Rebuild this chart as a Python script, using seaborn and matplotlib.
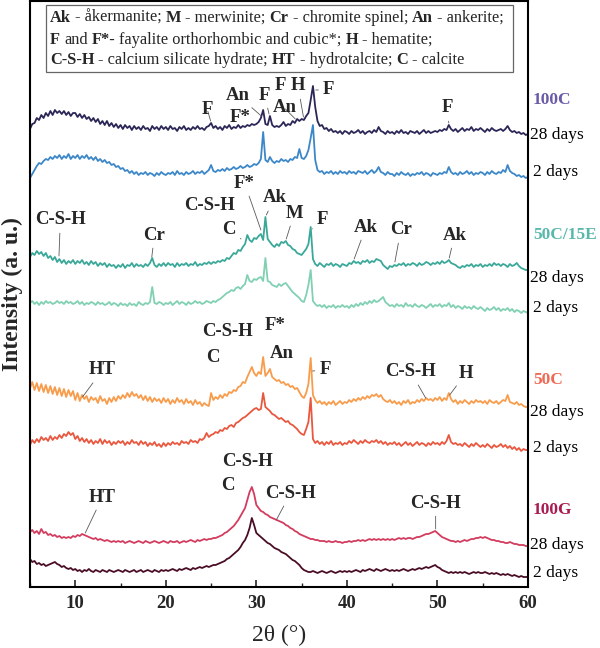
import numpy as np
import pandas as pd
import matplotlib
matplotlib.use("Agg")
import matplotlib.pyplot as plt
from matplotlib.patches import Rectangle
from matplotlib.ticker import MultipleLocator
import seaborn as sns

# scan 5-60 deg 2theta, step 0.25 deg (221 points per pattern)
scan_start = 5.0
scan_step = 0.25
n_points = 221

# intensities (a.u.), each row = 5 deg
i_100c_28d = [
    11, 16, 17, 22, 20, 25, 22, 27, 24, 29, 25, 30, 27, 29, 26, 29, 25, 28, 24, 27,
    27, 23, 26, 22, 25, 21, 23, 19, 22, 18, 21, 16, 19, 15, 19, 14, 17, 13, 16, 12,
    15, 11, 15, 12, 14, 10, 14, 11, 13, 10, 14, 11, 12, 9, 14, 11, 13, 10, 14, 11,
    13, 10, 14, 11, 12, 9, 13, 11, 14, 10, 12, 10, 13, 11, 14, 11, 12, 10, 13, 14,
    17, 12, 14, 11, 13, 10, 14, 12, 15, 11, 13, 12, 15, 12, 14, 13, 15, 14, 16, 15,
    16, 18, 22, 30, 16, 15, 24, 15, 13, 14, 13, 15, 18, 14, 16, 15, 19, 17, 21, 19,
    21, 20, 24, 27, 40, 54, 33, 19, 14, 15, 11, 12, 9, 11, 8, 9, 7, 9, 6, 9,
    8, 6, 9, 7, 8, 10, 7, 9, 6, 8, 9, 7, 10, 8, 13, 9, 8, 6, 9, 7,
    8, 6, 9, 7, 10, 7, 8, 6, 9, 8, 7, 9, 6, 8, 10, 7, 9, 7, 8, 9,
    8, 10, 9, 11, 10, 15, 11, 9, 11, 8, 10, 12, 9, 11, 10, 13, 9, 11, 10, 12,
    10, 8, 11, 9, 12, 10, 9, 10, 11, 9, 11, 14, 10, 8, 9, 7, 8, 6, 7, 5,
    6]
i_100c_2d = [
    2, 6, 10, 14, 17, 16, 19, 21, 20, 23, 21, 24, 22, 25, 21, 24, 22, 26, 21, 24,
    22, 25, 21, 24, 22, 25, 21, 23, 20, 23, 19, 21, 18, 20, 17, 18, 15, 16, 13, 14,
    11, 12, 9, 10, 7, 9, 6, 8, 5, 7, 6, 8, 5, 7, 6, 4, 7, 5, 8, 6,
    5, 7, 6, 8, 5, 9, 6, 7, 5, 8, 6, 7, 9, 6, 8, 7, 9, 6, 8, 10,
    15, 9, 8, 10, 9, 11, 9, 12, 10, 11, 13, 11, 12, 14, 12, 13, 15, 13, 14, 16,
    15, 17, 21, 48, 20, 18, 23, 19, 17, 19, 18, 21, 19, 20, 18, 21, 20, 23, 22, 31,
    22, 21, 24, 30, 42, 55, 20, 10, 8, 9, 6, 8, 7, 9, 6, 8, 6, 9, 7, 8,
    6, 9, 7, 8, 6, 9, 8, 7, 9, 6, 8, 10, 7, 9, 13, 8, 7, 5, 8, 6,
    6, 4, 7, 5, 8, 6, 5, 7, 4, 6, 5, 7, 6, 8, 5, 7, 6, 4, 7, 6,
    5, 7, 6, 8, 7, 13, 8, 6, 7, 5, 8, 6, 7, 9, 6, 8, 5, 7, 6, 8,
    7, 5, 8, 6, 9, 7, 6, 8, 7, 10, 8, 15, 9, 7, 6, 4, 5, 3, 4, 2,
    3]
i_50c15e_28d = [
    18, 22, 20, 24, 21, 23, 19, 22, 17, 19, 15, 18, 13, 16, 12, 15, 11, 14, 12, 15,
    11, 14, 12, 15, 11, 13, 10, 14, 11, 13, 9, 12, 10, 12, 8, 11, 9, 10, 7, 10,
    8, 11, 7, 10, 9, 12, 8, 11, 9, 10, 8, 11, 9, 12, 17, 10, 8, 11, 9, 12,
    9, 12, 10, 11, 8, 12, 9, 11, 10, 12, 9, 11, 10, 13, 9, 11, 10, 12, 11, 13,
    11, 13, 12, 14, 13, 15, 14, 17, 16, 19, 22, 21, 25, 24, 28, 31, 40, 35, 33, 37,
    36, 39, 41, 35, 58, 36, 33, 30, 28, 31, 29, 33, 32, 34, 30, 29, 26, 25, 22, 21,
    20, 23, 26, 31, 48, 16, 11, 9, 12, 10, 8, 11, 10, 12, 9, 11, 10, 8, 11, 10,
    9, 12, 11, 14, 12, 13, 11, 14, 13, 15, 12, 14, 13, 16, 15, 14, 10, 8, 6, 9,
    8, 10, 9, 11, 10, 12, 9, 11, 10, 12, 11, 9, 12, 10, 11, 13, 12, 10, 12, 11,
    13, 11, 14, 12, 13, 15, 12, 11, 10, 8, 7, 9, 8, 10, 9, 11, 8, 10, 9, 11,
    8, 10, 9, 11, 9, 12, 10, 11, 9, 11, 10, 8, 11, 9, 10, 12, 9, 7, 6, 5,
    5]
i_50c15e_2d = [
    12, 14, 11, 13, 10, 13, 11, 14, 12, 13, 11, 12, 14, 12, 13, 11, 14, 12, 13, 11,
    12, 14, 11, 13, 10, 12, 11, 13, 12, 10, 13, 11, 12, 10, 11, 13, 10, 12, 11, 9,
    12, 10, 11, 9, 12, 10, 11, 9, 13, 11, 10, 12, 11, 13, 28, 12, 11, 13, 12, 10,
    12, 11, 13, 10, 12, 14, 11, 13, 12, 10, 13, 11, 12, 14, 12, 13, 11, 12, 14, 13,
    12, 14, 13, 15, 16, 18, 20, 22, 23, 25, 24, 27, 28, 26, 29, 31, 40, 34, 33, 36,
    35, 37, 38, 34, 57, 34, 33, 30, 29, 28, 31, 29, 31, 32, 29, 26, 23, 21, 19, 17,
    14, 13, 20, 30, 45, 14, 11, 9, 10, 8, 10, 7, 9, 8, 10, 7, 9, 8, 10, 8,
    9, 7, 10, 8, 11, 9, 12, 10, 13, 11, 14, 12, 15, 13, 14, 16, 18, 13, 11, 9,
    10, 8, 11, 9, 10, 8, 12, 9, 10, 8, 11, 9, 8, 10, 9, 7, 9, 11, 8, 10,
    9, 11, 8, 10, 9, 12, 8, 10, 7, 9, 8, 6, 9, 7, 8, 6, 9, 7, 6, 8,
    6, 4, 7, 5, 6, 8, 5, 7, 4, 6, 5, 7, 4, 6, 3, 5, 4, 2, 4, 3,
    2]
i_50c_28d = [
    22, 28, 20, 27, 19, 26, 18, 25, 17, 24, 16, 23, 15, 22, 14, 21, 13, 20, 14, 19,
    10, 17, 9, 15, 11, 14, 8, 13, 10, 12, 7, 14, 9, 11, 6, 12, 8, 13, 9, 14,
    11, 15, 12, 17, 13, 18, 14, 16, 12, 15, 10, 14, 9, 13, 8, 12, 9, 11, 7, 12,
    8, 11, 6, 10, 7, 12, 8, 10, 6, 11, 7, 9, 5, 10, 6, 8, 4, 7, 5, 4,
    17, 10, 13, 11, 15, 12, 16, 14, 18, 17, 20, 19, 23, 24, 28, 27, 33, 38, 43, 37,
    34, 38, 36, 53, 34, 37, 41, 33, 31, 29, 30, 27, 28, 25, 26, 23, 24, 21, 22, 18,
    14, 12, 17, 26, 52, 15, 10, 7, 9, 6, 8, 5, 8, 6, 9, 5, 7, 9, 6, 8,
    7, 10, 8, 11, 9, 12, 10, 13, 11, 14, 12, 15, 14, 16, 13, 15, 11, 9, 8, 10,
    7, 9, 6, 8, 5, 9, 7, 10, 6, 8, 7, 10, 8, 11, 9, 12, 10, 11, 9, 12,
    10, 13, 9, 12, 10, 17, 11, 8, 10, 6, 9, 7, 10, 8, 6, 9, 7, 10, 8, 9,
    7, 9, 6, 10, 8, 7, 9, 6, 8, 10, 9, 15, 8, 7, 6, 8, 5, 6, 4, 3,
    3]
i_50c_2d = [
    10, 15, 12, 16, 13, 18, 15, 17, 14, 19, 15, 18, 16, 20, 17, 21, 19, 23, 20, 22,
    16, 19, 14, 17, 13, 16, 12, 15, 11, 14, 12, 16, 11, 15, 12, 14, 10, 13, 11, 14,
    12, 14, 10, 13, 11, 15, 12, 13, 10, 14, 11, 13, 9, 12, 10, 13, 9, 11, 8, 12,
    9, 12, 10, 13, 11, 12, 10, 14, 12, 13, 11, 15, 13, 14, 12, 16, 15, 17, 22, 18,
    20, 21, 23, 22, 25, 24, 27, 26, 29, 30, 28, 32, 33, 35, 37, 38, 40, 42, 44, 46,
    47, 45, 46, 62, 48, 46, 44, 41, 40, 38, 36, 37, 35, 33, 34, 31, 30, 28, 26, 23,
    21, 20, 26, 33, 57, 16, 12, 14, 11, 13, 10, 13, 11, 14, 10, 12, 11, 13, 10, 12,
    11, 14, 12, 15, 13, 11, 14, 12, 15, 13, 12, 14, 13, 15, 12, 14, 11, 13, 10, 12,
    11, 13, 10, 12, 9, 11, 13, 10, 12, 9, 11, 13, 10, 12, 11, 9, 12, 10, 13, 11,
    12, 10, 13, 11, 14, 20, 13, 11, 12, 10, 11, 9, 12, 10, 8, 11, 9, 12, 10, 8,
    10, 8, 11, 9, 7, 10, 8, 9, 11, 8, 10, 7, 9, 6, 8, 5, 7, 4, 6, 5,
    5]
i_100g_28d = [
    18, 20, 17, 19, 16, 21, 17, 18, 15, 16, 14, 15, 13, 14, 12, 13, 12, 13, 12, 14,
    13, 15, 14, 16, 15, 14, 13, 12, 11, 12, 10, 11, 10, 9, 10, 9, 8, 9, 8, 9,
    8, 9, 7, 8, 9, 8, 7, 8, 9, 8, 7, 9, 8, 7, 8, 9, 8, 7, 8, 9,
    8, 7, 9, 8, 8, 9, 7, 8, 9, 8, 9, 10, 9, 8, 10, 9, 10, 11, 10, 11,
    11, 12, 12, 13, 14, 15, 17, 18, 20, 22, 24, 27, 30, 34, 38, 42, 50, 58, 63, 56,
    45, 42, 39, 38, 36, 35, 33, 32, 31, 30, 29, 28, 27, 25, 24, 22, 21, 19, 18, 16,
    15, 14, 13, 12, 11, 11, 10, 10, 9, 9, 9, 8, 9, 8, 8, 9, 8, 8, 7, 8,
    8, 9, 8, 9, 9, 10, 9, 10, 9, 10, 11, 10, 11, 10, 11, 10, 11, 10, 11, 10,
    11, 10, 11, 12, 11, 12, 11, 12, 12, 11, 12, 13, 13, 14, 15, 16, 16, 17, 18, 19,
    17, 15, 13, 12, 11, 10, 9, 9, 8, 9, 8, 9, 10, 9, 10, 11, 11, 12, 12, 13,
    12, 13, 12, 11, 10, 10, 9, 9, 8, 8, 7, 7, 8, 7, 6, 6, 5, 5, 5, 4,
    4]
i_100g_2d = [
    21, 18, 19, 16, 17, 15, 16, 14, 15, 16, 17, 18, 16, 15, 13, 14, 12, 11, 12, 10,
    11, 9, 10, 8, 10, 9, 11, 9, 8, 10, 9, 8, 10, 9, 8, 10, 9, 8, 9, 10,
    9, 8, 10, 9, 8, 9, 10, 8, 9, 10, 8, 9, 10, 9, 8, 10, 9, 8, 10, 9,
    10, 9, 10, 11, 10, 9, 11, 10, 11, 12, 11, 10, 12, 11, 12, 13, 12, 13, 14, 13,
    14, 15, 15, 16, 17, 18, 19, 21, 22, 24, 26, 28, 30, 33, 37, 40, 45, 52, 62, 55,
    47, 45, 43, 41, 39, 37, 36, 34, 32, 31, 30, 28, 27, 26, 24, 22, 20, 19, 17, 15,
    12, 10, 9, 8, 8, 9, 8, 7, 8, 9, 8, 7, 8, 9, 8, 7, 8, 9, 8, 9,
    8, 9, 8, 9, 10, 9, 8, 10, 9, 10, 11, 10, 9, 11, 10, 9, 10, 11, 10, 9,
    10, 9, 10, 9, 10, 11, 10, 9, 10, 11, 10, 11, 12, 11, 12, 13, 12, 13, 14, 15,
    13, 12, 10, 9, 8, 7, 8, 7, 8, 7, 8, 7, 8, 7, 6, 7, 8, 7, 8, 7,
    7, 8, 7, 6, 7, 6, 7, 6, 5, 6, 5, 6, 5, 4, 5, 4, 3, 4, 3, 3,
    3]

patterns = {
    "100C 2d": i_100c_2d, "100C 28d": i_100c_28d,
    "50C/15E 2d": i_50c15e_2d, "50C/15E 28d": i_50c15e_28d,
    "50C 2d": i_50c_2d, "50C 28d": i_50c_28d,
    "100G 2d": i_100g_2d, "100G 28d": i_100g_28d,
}
# vertical stacking offset of each pattern
stack = {
    "100C 28d": 447, "100C 2d": 407,
    "50C/15E 28d": 312, "50C/15E 2d": 272,
    "50C 28d": 177, "50C 2d": 132,
    "100G 28d": 37, "100G 2d": 7,
}
palette = {
    "100C 28d": "#2a2656", "100C 2d": "#3b87c8",
    "50C/15E 28d": "#3aa899", "50C/15E 2d": "#80d0b2",
    "50C 28d": "#f89c4c", "50C 2d": "#e9573f",
    "100G 28d": "#d33c5e", "100G 2d": "#4a0d26",
}

two_theta = scan_start + scan_step * np.arange(n_points)
frames = []
for name, vals in patterns.items():
    frames.append(pd.DataFrame({"two_theta": two_theta,
                                "intensity": np.asarray(vals, float) + stack[name],
                                "sample": name}))
df = pd.concat(frames, ignore_index=True)

# peak labels: text, label position, end of leader line (None = no line)
peak_labels = [
    ("F", 24.6, 477, 24.95, 466), ("An", 27.9, 492, 30.55, 471), ("F*", 28.2, 469, None, None),
    ("F", 30.9, 492, 31.4, 473), ("F", 32.7, 501, None, None), ("H", 34.6, 501, 35.2, 470),
    ("An", 33.1, 479, 34.3, 468), ("F", 38.0, 497, 36.55, 497), ("F", 51.1, 479, 51.25, 464),
    ("C-S-H", 8.35, 367, 8.2, 331), ("Cr", 18.75, 352, 18.45, 330), ("C-S-H", 24.8, 382, None, None),
    ("C", 27.0, 357, 28.3, 348), ("F*", 28.7, 404, 30.5, 357), ("Ak", 32.0, 389, 31.1, 372),
    ("M", 34.2, 374, 33.3, 348), ("F", 37.3, 367, 36.15, 358), ("Ak", 42.1, 360, 40.8, 328),
    ("Cr", 45.95, 357, 45.3, 325), ("Ak", 51.9, 352, 51.3, 329),
    ("C-S-H", 26.8, 256, None, None), ("F*", 32.1, 261, None, None), ("C", 25.25, 230, None, None),
    ("An", 32.8, 234, None, None), ("HT", 13.0, 217, 10.8, 190), ("F", 37.6, 217, 36.2, 216),
    ("C-S-H", 47.05, 215, 48.7, 189), ("H", 53.15, 214, 51.35, 192),
    ("C-S-H", 29.0, 126, None, None), ("C", 26.8, 102, None, None), ("HT", 13.0, 90, 11.1, 54),
    ("C-S-H", 33.8, 94, 32.2, 67), ("C-S-H", 49.8, 84, 49.8, 58),
]
# labels right of the frame
side_labels = [
    ("100C", 487, "#6a5ba8", "bold"), ("28 days", 452, "black", "normal"), ("2 days", 415, "black", "normal"),
    ("50C/15E", 352, "#58b8ab", "bold"), ("28 days", 309, "black", "normal"), ("2 days", 279, "black", "normal"),
    ("50C", 207, "#ee6a55", "bold"), ("28 days", 175, "black", "normal"), ("2 days", 139, "black", "normal"),
    ("100G", 77, "#a81a50", "bold"), ("28 days", 42, "black", "normal"), ("2 days", 14, "black", "normal"),
]
key_lines = [
    [("Ak", True), ("- åkermanite;", False), ("M", True), ("- merwinite;", False), ("Cr", True),
     ("- chromite spinel;", False), ("An", True), ("- ankerite;", False)],
    [("F", True), ("and", False), ("F*-", True), ("fayalite orthorhombic and cubic*;", False),
     ("H", True), ("- hematite;", False)],
    [("C-S-H", True), ("- calcium silicate hydrate;", False), ("HT", True), ("- hydrotalcite;", False),
     ("C", True), ("- calcite", False)],
]

sns.set_theme(style="ticks")
plt.rcParams["font.family"] = ["Liberation Serif", "DejaVu Serif"]

fig = plt.figure(figsize=(6, 6.48), dpi=100)
ax = fig.add_axes([0.05, 1 - 587 / 648, 0.83, 586 / 648])
sns.lineplot(data=df, x="two_theta", y="intensity", hue="sample", palette=palette,
             hue_order=list(patterns.keys()), estimator=None, sort=False,
             linewidth=1.3, legend=False, ax=ax)

ax.set_xlim(5, 60)
ax.set_ylim(0, 586)
ax.set_yticks([])
ax.xaxis.set_major_locator(MultipleLocator(10))
ax.xaxis.set_minor_locator(MultipleLocator(5))
ax.tick_params(axis="x", which="major", direction="in", length=5, width=1.2, labelsize=13.5, pad=6)
ax.tick_params(axis="x", which="minor", direction="in", length=3, width=1.0)
for lab in ax.get_xticklabels():
    lab.set_fontweight("bold")
for sp in ax.spines.values():
    sp.set_linewidth(1.5)
    sp.set_color("black")
ax.set_xlabel("2θ (°)", fontsize=17)
ax.xaxis.set_label_coords(0.5, -0.064)
ax.set_ylabel("Intensity (a. u.)", fontsize=17, fontweight="bold")
ax.yaxis.set_label_coords(-0.014, 0.5)

for text, x, y, xe, ye in peak_labels:
    if xe is None:
        ax.text(x, y, text, fontsize=13.5, fontweight="bold", ha="center", va="center")
    else:
        ax.annotate(text, xy=(xe, ye), xytext=(x, y), fontsize=13.5, fontweight="bold",
                    ha="center", va="center",
                    arrowprops=dict(arrowstyle="-", color="0.35", lw=0.6, shrinkA=1, shrinkB=0))

for text, y, color, weight in side_labels:
    xpos = 60.2 if "28" in text else 60.55
    ax.text(xpos, y, text, fontsize=12.5, color=color,
            fontweight=weight, ha="left", va="center", clip_on=False)

# key box with mixed bold / regular text
ax.add_patch(Rectangle((0.032, 0.879), 0.938, 0.114, transform=ax.transAxes,
                       fill=False, edgecolor="0.4", linewidth=0.9))
for row, y0 in zip(key_lines, [0.958, 0.9205, 0.886]):
    prev = None
    for seg, bold in row:
        kw = dict(fontsize=11.8, fontweight="bold" if bold else "normal", va="bottom", ha="left")
        if prev is None:
            prev = ax.text(0.040, y0, seg, transform=ax.transAxes, **kw)
        else:
            prev = ax.annotate(seg, xy=(1, 0), xycoords=prev, xytext=(2.9, 0),
                               textcoords="offset points", **kw)

fig.savefig("out.png", dpi=100)
plt.close(fig)
